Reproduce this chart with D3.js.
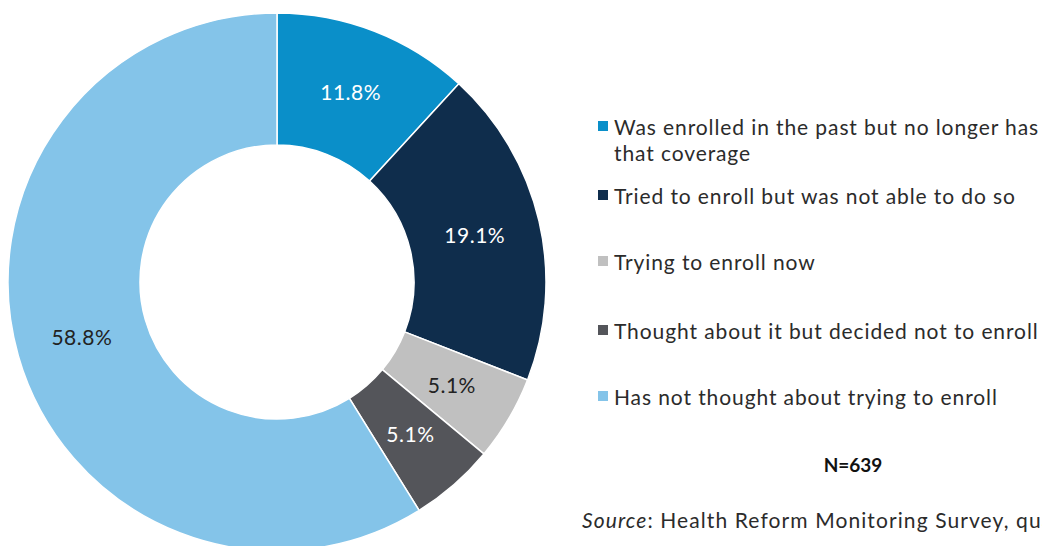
<!DOCTYPE html>
<html>
<head>
<meta charset="utf-8">
<script src="https://cdn.jsdelivr.net/npm/d3@7"></script>
<style>
  body { margin: 0; background: #fff; }
  svg { display: block; font-family: Lato, "Open Sans", sans-serif; }
</style>
</head>
<body>
<script>
// data
var categories = [
  "Was enrolled in the past but no longer has|that coverage",
  "Tried to enroll but was not able to do so",
  "Trying to enroll now",
  "Thought about it but decided not to enroll",
  "Has not thought about trying to enroll"
];
var values = [11.8, 19.1, 5.1, 5.1, 58.8];
var colors = ["#0a8fc9", "#0f2d4c", "#c0c0c0", "#54555a", "#84c4e9"];
var labelColors = ["#fff", "#fff", "#222", "#fff", "#222"];
var sampleNote = "N=639";

var width = 1042, height = 546;
var svg = d3.select("body").append("svg")
  .attr("width", width)
  .attr("height", height);

// donut
var cx = 277, cy = 282, outerR = 269, innerR = 137;
var pie = d3.pie().sort(null).value(function(d){ return d; });
var arc = d3.arc().innerRadius(innerR).outerRadius(outerR);
var arcs = pie(values);

var g = svg.append("g").attr("transform", "translate(" + cx + "," + cy + ")");
g.selectAll("path")
  .data(arcs)
  .enter()
  .append("path")
    .attr("d", arc)
    .attr("fill", function(d,i){ return colors[i]; })
    .attr("stroke", "#fff")
    .attr("stroke-width", 1.5);

g.selectAll("text")
  .data(arcs)
  .enter()
  .append("text")
    .attr("transform", function(d){ return "translate(" + arc.centroid(d) + ")"; })
    .attr("text-anchor", "middle")
    .attr("dy", "0.35em")
    .attr("font-size", 21)
    .attr("letter-spacing", 0.5)
    .attr("fill", function(d,i){ return labelColors[i]; })
    .text(function(d){ return d.data.toFixed(1) + "%"; });

// legend
var legendX = 598;
var rowY = [128, 197, 263, 332, 398];
var legend = svg.selectAll("g.legend")
  .data(categories)
  .enter()
  .append("g")
    .attr("class", "legend")
    .attr("transform", function(d,i){ return "translate(" + legendX + "," + rowY[i] + ")"; });

legend.append("rect")
  .attr("x", 0)
  .attr("y", -7)
  .attr("width", 10)
  .attr("height", 10)
  .attr("fill", function(d,i){ return colors[i]; });

legend.append("text")
  .attr("x", 16)
  .attr("font-size", 21)
  .attr("letter-spacing", 0.9)
  .attr("fill", "#2b2b2b")
  .each(function(d){
    var lines = d.split("|");
    var t = d3.select(this);
    lines.forEach(function(line, k){
      t.append("tspan")
        .attr("x", 16)
        .attr("y", k * 26)
        .attr("dy", "0.35em")
        .text(line);
    });
  });

// notes
svg.append("text")
  .attr("x", 853)
  .attr("y", 465)
  .attr("dy", "0.35em")
  .attr("text-anchor", "middle")
  .attr("font-size", 19)
  .attr("font-weight", "bold")
  .attr("fill", "#111")
  .text(sampleNote);

var src = svg.append("text")
  .attr("x", 582)
  .attr("y", 521)
  .attr("dy", "0.35em")
  .attr("font-size", 21)
  .attr("letter-spacing", 1.1)
  .attr("fill", "#2b2b2b");
src.append("tspan").attr("font-style", "italic").text("Source");
src.append("tspan").text(": Health Reform Monitoring Survey, qua");
</script>
</body>
</html>
